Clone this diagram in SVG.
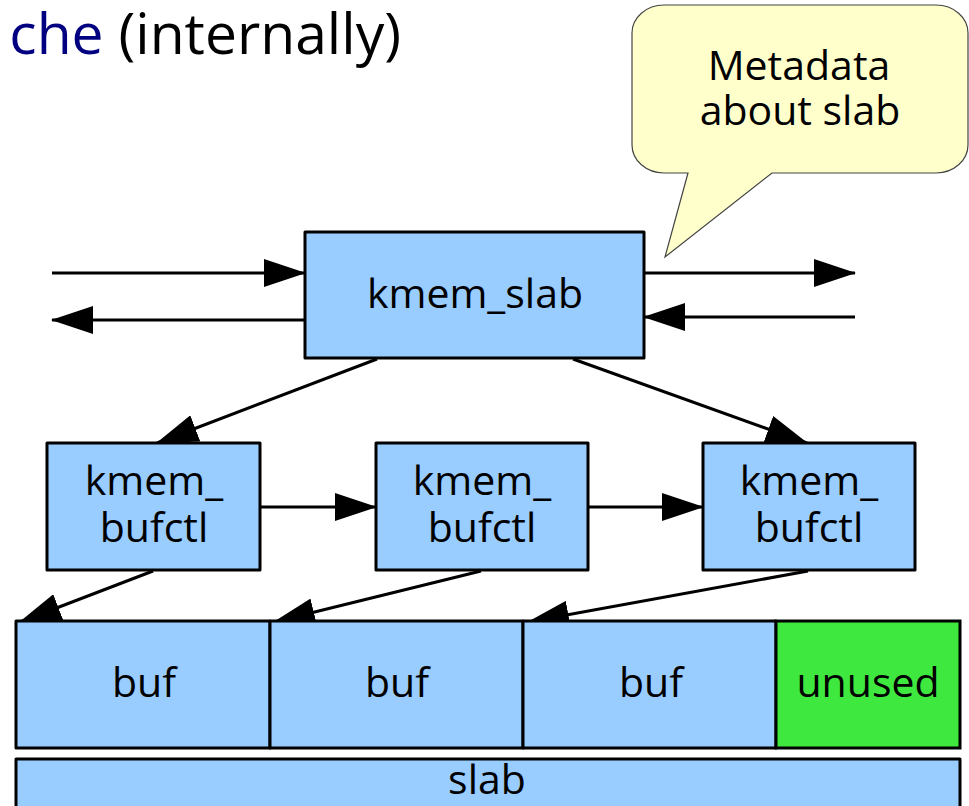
<svg xmlns="http://www.w3.org/2000/svg" width="969" height="806" viewBox="0 0 969 806">
  <defs>
    <style>
      .box { fill: #99CCFF; stroke: #000; stroke-width: 3; stroke-linejoin: round; }
      .unused { fill: #3EE83E; stroke: #000; stroke-width: 3; }
      .lbl { font-family: "Open Sans", "Noto Sans", "Liberation Sans", sans-serif; font-size: 41px; fill: #000; text-anchor: middle; }
      .edge { stroke: #000; stroke-width: 3; fill: none; marker-end: url(#arrow); }
    </style>
    <marker id="arrow" markerUnits="userSpaceOnUse" markerWidth="42" markerHeight="28" refX="41" refY="14" orient="auto">
      <path d="M0,0 L42,14 L0,28 Z" fill="#000"/>
    </marker>
  </defs>

  <rect width="969" height="806" fill="#fff"/>

  <!-- heading -->
  <text x="401" y="54" font-family="'Open Sans', 'Noto Sans', sans-serif" font-size="57" text-anchor="end" fill="#000"><tspan fill="#000080">che</tspan> (internally)</text>

  <!-- callout -->
  <g id="callout">
    <path d="M664,5 H936 A32,28 0 0 1 968,33 V145 A32,28 0 0 1 936,173 H772 L665,257 L688,173 H664 A32,28 0 0 1 632,145 V33 A32,28 0 0 1 664,5 Z" fill="#FFFFCC" stroke="#444" stroke-width="1.2"/>
    <text class="lbl" x="799" y="80" font-size="40">Metadata</text>
    <text class="lbl" x="800" y="125" font-size="40">about slab</text>
  </g>

  <!-- connectors -->
  <g id="connectors">
    <line class="edge" x1="52" y1="273" x2="305" y2="273"/>
    <line class="edge" x1="305" y1="320" x2="52" y2="320"/>
    <line class="edge" x1="644" y1="273" x2="855" y2="273"/>
    <line class="edge" x1="855" y1="317" x2="644" y2="317"/>
    <line class="edge" x1="377" y1="359" x2="157" y2="443"/>
    <line class="edge" x1="573" y1="359" x2="807" y2="443"/>
    <line class="edge" x1="260" y1="507" x2="376" y2="507"/>
    <line class="edge" x1="588" y1="507" x2="703" y2="507"/>
    <line class="edge" x1="153" y1="571" x2="20" y2="622"/>
    <line class="edge" x1="481" y1="571" x2="274" y2="622"/>
    <line class="edge" x1="808" y1="571" x2="528" y2="622"/>
  </g>

  <g id="kmem_slab">
    <rect class="box" x="305" y="232" width="339" height="126"/>
    <text class="lbl" x="475" y="308" font-size="42">kmem_slab</text>
  </g>

  <g id="bufctl1">
    <rect class="box" x="47" y="443" width="213" height="127"/>
    <text class="lbl" x="154" y="495">kmem_</text>
    <text class="lbl" x="154" y="542">bufctl</text>
  </g>
  <g id="bufctl2">
    <rect class="box" x="376" y="443" width="212" height="127"/>
    <text class="lbl" x="482" y="495">kmem_</text>
    <text class="lbl" x="482" y="542">bufctl</text>
  </g>
  <g id="bufctl3">
    <rect class="box" x="703" y="443" width="212" height="127"/>
    <text class="lbl" x="809" y="495">kmem_</text>
    <text class="lbl" x="809" y="542">bufctl</text>
  </g>

  <g id="buf1">
    <rect class="box" x="16" y="621" width="254" height="127"/>
    <text class="lbl" x="144" y="697">buf</text>
  </g>
  <g id="buf2">
    <rect class="box" x="270" y="621" width="253" height="127"/>
    <text class="lbl" x="397" y="697">buf</text>
  </g>
  <g id="buf3">
    <rect class="box" x="523" y="621" width="253" height="127"/>
    <text class="lbl" x="651" y="697">buf</text>
  </g>
  <g id="unused">
    <rect class="unused" x="776" y="621" width="184" height="127"/>
    <text class="lbl" x="868" y="697">unused</text>
  </g>

  <g id="slab">
    <rect class="box" x="16" y="759" width="944" height="60"/>
    <text class="lbl" x="487" y="794">slab</text>
  </g>
</svg>
